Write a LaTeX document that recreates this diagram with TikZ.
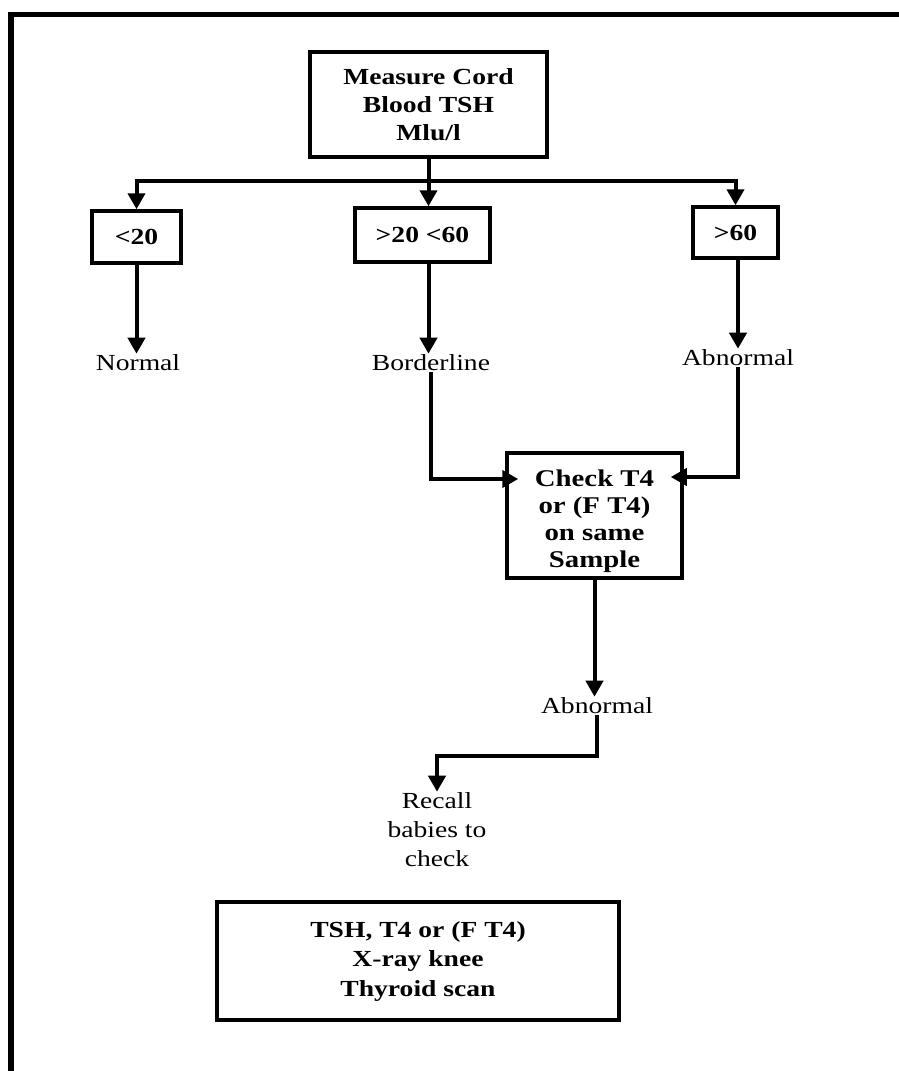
\documentclass[tikz,border=0pt]{standalone}
\usepackage{fontspec}
\setmainfont{Liberation Serif}
\usepackage{graphicx}
\usetikzlibrary{arrows.meta}
\newcommand\sx[1]{\scalebox{1.2}[1]{#1}}
\begin{document}
\begin{tikzpicture}[x=1pt,y=-1pt,
  box/.style={draw,line width=3.5pt,inner sep=0pt,align=center,font=\fontsize{23}{28}\selectfont\bfseries},
  boxtext/.style={inner sep=0pt,align=center,font=\fontsize{24}{27}\selectfont\bfseries},
  lab/.style={inner sep=1pt,align=center,font=\fontsize{23}{29}\selectfont},
  conn/.style={line width=4pt},
  arr/.style={conn,-{Triangle[length=16pt,width=17pt]}}]
\useasboundingbox (0,0) rectangle (898,1071);
\fill[white] (0,0) rectangle (898,1071);
% frame
\draw[line width=5.5pt] (11,1075) -- (11,14.5) -- (902,14.5);

% nodes
\node[box,minimum width=237pt,minimum height=105pt] (top) at (428.5,104.5)
  {\sx{Measure Cord}\\\sx{Blood TSH}\\\sx{Mlu/l}};
\node[box,minimum width=89pt,minimum height=52pt] (lt) at (136.5,237) {\sx{<20}};
\node[box,minimum width=135pt,minimum height=54pt] (mid) at (422.5,235) {\sx{>20 <60}};
\node[box,minimum width=85pt,minimum height=51pt] (gt) at (735.5,232.5) {\sx{>60}};

\node[lab] (normal) at (138,363) {\sx{Normal}};
\node[lab] (border) at (431,363) {\sx{Borderline}};
\node[lab] (abn1) at (738,358) {\sx{Abnormal}};

\node[box,minimum width=175pt,minimum height=125pt] (check) at (594.5,515.5) {};
\node[boxtext] (checkt) at (594.5,521.5)
  {\sx{Check T4}\\\sx{or (F T4)}\\\sx{on same}\\\sx{Sample}};

\node[lab] (abn2) at (597,706) {\sx{Abnormal}};
\node[lab] (recall) at (437,830) {\sx{Recall}\\\sx{babies to}\\\sx{check}};

\node[box,minimum width=402pt,minimum height=118pt,font=\fontsize{23}{29.5}\selectfont\bfseries] (final) at (418,961)
  {\sx{TSH, T4 or (F T4)}\\\sx{X-ray knee}\\\sx{Thyroid scan}};

% connectors
\coordinate (j) at (428.5,181);
\draw[conn] (top.south) -- (j);
\draw[arr] (j) -| (lt.north);
\draw[arr] (j) -| (gt.north);
\draw[arr] (j) -- (j |- mid.north);

\draw[arr] (lt.south) -- (lt.south |- normal.north);
\draw[arr] (mid.south -| j) -- (j |- border.north);
\draw[arr] (gt.south -| abn1) -- (abn1.north);

\draw[arr,shorten >=-13pt] (border.south) |- ([yshift=36.5pt]check.west);
\draw[arr,shorten >=-13pt] (abn1.south) |- ([yshift=38.5pt]check.east);

\draw[arr] (check.south) -- (check.south |- abn2.north);
\draw[arr] (abn2.south) |- ++(0,41) -| (recall.north);
\end{tikzpicture}
\end{document}
